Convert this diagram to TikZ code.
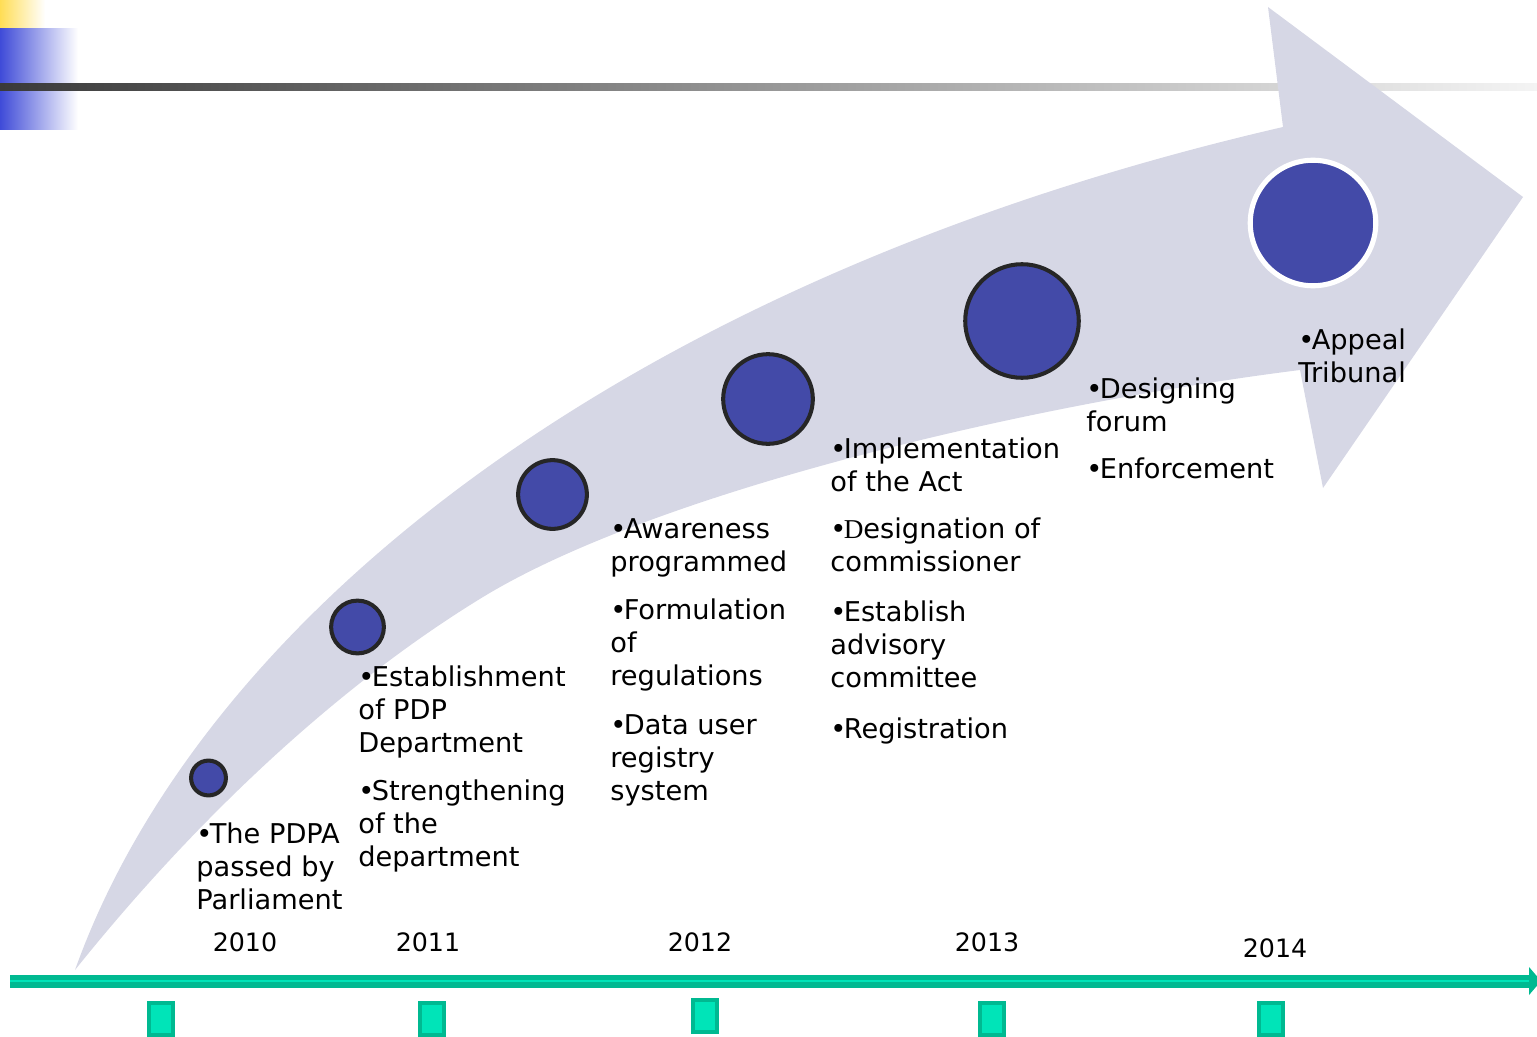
\documentclass[tikz,border=0pt]{standalone}
\usepackage{fontspec}
\setmainfont{DejaVu Sans}
\newfontfamily\serifD{Liberation Serif}
\definecolor{band}{RGB}{214,215,229}
\definecolor{dot}{RGB}{67,74,168}
\definecolor{dotline}{RGB}{38,38,38}
\definecolor{teal}{RGB}{0,185,145}
\definecolor{teallight}{RGB}{0,228,184}
\definecolor{ylw}{RGB}{255,221,85}
\definecolor{blu}{RGB}{63,75,216}
\newcommand{\bul}{•\kern-1.5pt}
\tikzset{
  x=0.02cm, y=-0.02cm,
  item/.style={anchor=north west, inner sep=0pt, align=left, font=\fontsize{15.5pt}{18.7pt}\selectfont},
  yearlbl/.style={inner sep=0pt, font=\fontsize{14.4pt}{17pt}\selectfont},
  dotc/.style={circle, fill=dot, draw=dotline, line width=2.3pt, inner sep=0pt},
  tick/.style={rectangle, fill=teallight, draw=teal, line width=2.3pt, minimum width=13.3pt, minimum height=18.5pt, inner sep=0pt},
}
\begin{document}
\begin{tikzpicture}
\useasboundingbox (0,0) rectangle (1537,1037);
% top-left decoration
\shade[left color=ylw, right color=white] (0,0) rectangle (45,29);
\shade[left color=blu, right color=white] (0,29) rectangle (78,84);
\shade[left color=blu, right color=white] (0,91) rectangle (78,130);
\shade[left color={rgb,255:red,58;green,58;blue,58}, right color={rgb,255:red,244;green,244;blue,244}] (0,84) rectangle (1537,91);
% curved arrow
\fill[band] (75,970) .. controls (200,620) and (620,280) .. (1283,127)
  -- (1268,7) -- (1523,197) -- (1323,488) -- (1300,370)
  .. controls (1022,405) and (654,493) .. (483,597)
  .. controls (329,691) and (187,830) .. (75,970) -- cycle;
% circles
\node[dotc, minimum size=35pt*0.567] (c1) at (208.5,778) {};
\node[dotc, minimum size=53pt*0.567] (c2) at (357.5,627) {};
\node[dotc, minimum size=69pt*0.567] (c3) at (552.5,494.5) {};
\node[dotc, minimum size=90pt*0.567] (c4) at (768,399) {};
\node[dotc, minimum size=114pt*0.567] (c5) at (1022,321) {};
\node[circle, fill=dot, draw=white, line width=2.9pt, inner sep=0pt, minimum size=126pt*0.567] (c6) at (1313,223) {};
% texts
\node[item] (a1) at (196,820) {\strut\bul The PDPA\\passed by\\Parliament};
\node[item] (b1) at (358,663) {\strut\bul Establishment\\of PDP\\Department};
\node[item] (b2) at (358,777) {\strut\bul Strengthening\\of the\\department};
\node[item] (k1) at (610,515) {\strut\bul Awareness\\programmed};
\node[item] (k2) at (610,596) {\strut\bul Formulation\\of\\regulations};
\node[item] (k3) at (610,711) {\strut\bul Data user\\registry\\system};
\node[item] (d1) at (830,435) {\strut\bul Implementation\\of the Act};
\node[item] (d2) at (830,515) {\strut\bul{\serifD D}esignation of\\commissioner};
\node[item] (d3) at (830,598) {\strut\bul Establish\\advisory\\committee};
\node[item] (d4) at (830,715) {\strut\bul Registration};
\node[item] (e1) at (1086,375) {\strut\bul Designing\\forum};
\node[item] (e2) at (1086,455) {\strut\bul Enforcement};
\node[item] (f1) at (1298,326) {\strut\bul Appeal\\Tribunal};
% timeline
\coordinate (ts) at (10,981);
\coordinate (te) at (1530,981);
\draw[teal, line width=7.4pt] (ts) -- (te);
\draw[teallight, line width=1.6pt] (ts) -- (te);
\fill[teal] (1529,967) -- (1541,981) -- (1529,995) -- cycle;
% years
\node[yearlbl] (y0) at (245,942) {2010};
\node[yearlbl] (y1) at (428,942) {2011};
\node[yearlbl] (y2) at (700,942) {2012};
\node[yearlbl] (y3) at (987,942) {2013};
\node[yearlbl] (y4) at (1275,948) {2014};
% ticks
\node[tick] (t0) at (161,1019) {};
\node[tick] (t1) at (432,1019) {};
\node[tick] (t2) at (705,1016) {};
\node[tick] (t3) at (992,1019) {};
\node[tick] (t4) at (1271,1019) {};
\end{tikzpicture}
\end{document}
